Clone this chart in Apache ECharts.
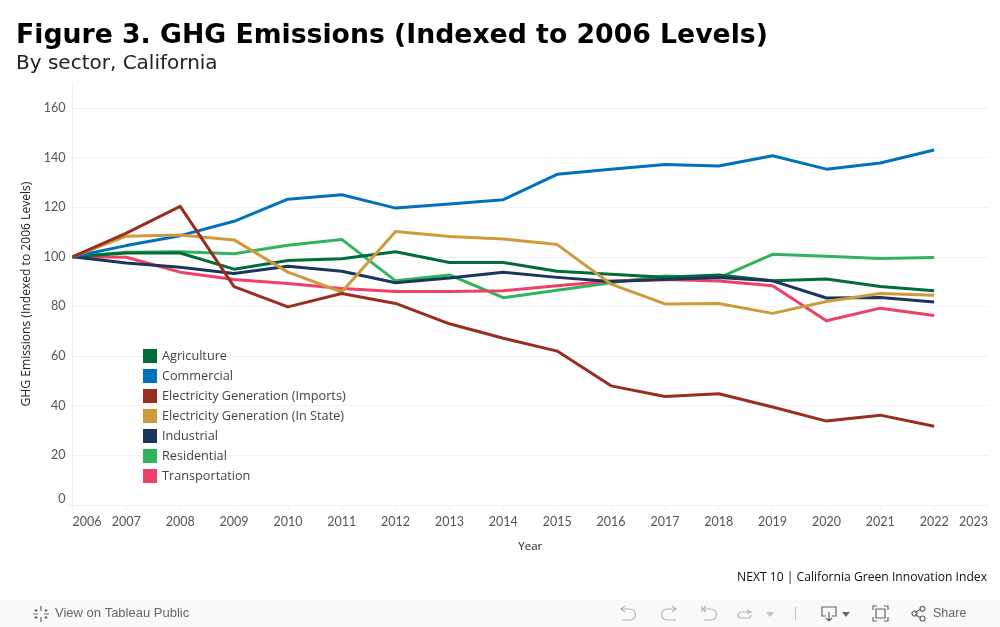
<!DOCTYPE html>
<html><head><meta charset="utf-8">
<style>html,body{margin:0;padding:0;background:#fff}#c{width:1000px;height:627px}</style>
<script src="https://cdn.jsdelivr.net/npm/echarts@6/dist/echarts.min.js"></script>
</head><body><div id="c"></div>
<script>
const years=[2006,2007,2008,2009,2010,2011,2012,2013,2014,2015,2016,2017,2018,2019,2020,2021,2022];
const agriculture=[100,101.5,101.5,95,98.5,99.2,102,97.7,97.7,94.2,93,91.7,92.7,90.3,91,88,86.3];
const commercial=[100,104.5,108.5,114.3,123.2,125,119.6,121.3,123,133.2,135.3,137.2,136.6,140.7,135.3,137.8,143];
const imports=[100,109.5,120.3,88,79.8,85.2,81.2,73,67.2,62,48,43.7,44.8,39.5,33.8,36.2,31.7];
const inState=[100,108.3,108.8,106.8,93.8,85.8,110.2,108.2,107.2,104.9,89,81,81.2,77.2,82,85.2,84.5];
const industrial=[100,97.5,95.8,93.3,96.2,94.2,89.5,91.4,93.8,91.7,90,90.8,91.6,90.3,83.4,83.6,81.8];
const residential=[100,101.8,102,101.2,104.6,107,90.3,92.7,83.5,86.5,89.5,92.3,91.5,101,100.2,99.3,99.7];
const transportation=[100,99.8,93.8,90.8,89.2,87.2,86,86,86.3,88.3,90.2,90.8,90.2,88.3,74.2,79.3,76.3];
const legendOrder=['Agriculture','Commercial','Electricity Generation (Imports)','Electricity Generation (In State)','Industrial','Residential','Transportation'];
const drawOrder=[
 ['Residential',residential,'#2fb35d'],
 ['Transportation',transportation,'#f03f68'],
 ['Agriculture',agriculture,'#006d3b'],
 ['Industrial',industrial,'#1b365d'],
 ['Commercial',commercial,'#0072bc'],
 ['Electricity Generation (In State)',inState,'#cd9a3c'],
 ['Electricity Generation (Imports)',imports,'#982f1e']
];
const font='Lato', textFont='Open Sans';
let icn=0;
const ic=(d,x,y,stroke)=>{const name='tbicon'+(icn++);
 echarts.graphic.registerShape(name,echarts.graphic.extendPath(d,{}));
 return {type:name,x,y,silent:true,style:{fill:'none',stroke:stroke||'#b5b5b5',lineWidth:1.2}};};
const chart=echarts.init(document.getElementById('c'),null,{renderer:'canvas'});
chart.setOption({
 animation:false,backgroundColor:'#fff',
 title:[
  {text:'Figure 3. GHG Emissions (Indexed to 2006 Levels)',left:16,top:23,padding:0,textStyle:{fontFamily:'DejaVu Sans',fontSize:26.7,fontWeight:'bold',color:'#000'}},
  {text:'By sector, California',left:16,top:54,padding:0,textStyle:{fontFamily:'DejaVu Sans',fontSize:20,fontWeight:'normal',color:'#222'}}
 ],
 grid:{left:72.5,right:12,top:83,bottom:122},
 legend:{orient:'vertical',left:143,top:349,padding:0,itemWidth:14,itemHeight:14,itemGap:6,icon:'rect',selectedMode:false,
  data:legendOrder,textStyle:{fontFamily:textFont,fontSize:12.7,color:'#444',padding:[2,0,0,0]}},
 xAxis:{type:'value',min:2006,max:2023,interval:1,splitLine:{show:false},
  name:'Year',nameLocation:'middle',nameGap:36,nameTextStyle:{fontFamily:textFont,fontSize:11.5,color:'#222'},
  axisLine:{show:true,lineStyle:{color:'#f0f0f0'}},axisTick:{show:true,length:4,lineStyle:{color:'#f0f0f0'}},
  axisLabel:{fontFamily:font,fontSize:12.5,color:'#555',margin:10,formatter:v=>String(v),alignMinLabel:'left',alignMaxLabel:'right'}},
 yAxis:{type:'value',min:0,max:170,interval:20,
  name:'GHG Emissions (Indexed to 2006 Levels)',nameLocation:'middle',nameGap:33,nameTextStyle:{fontFamily:textFont,fontSize:12.1,color:'#222'},
  splitLine:{show:true,showMinLine:false,showMaxLine:false,lineStyle:{color:'#f2f2f2'}},
  axisLine:{show:true,lineStyle:{color:'#f0f0f0'}},axisTick:{show:false},
  axisLabel:{fontFamily:font,fontSize:12.5,color:'#555',margin:7,showMaxLabel:false,verticalAlignMinLabel:'bottom'}},
 series:drawOrder.map(([name,vals,color])=>({name,type:'line',symbol:'none',smooth:false,
  data:vals.map((v,i)=>[years[i],v]),lineStyle:{width:3,color,join:'round'},itemStyle:{color},emphasis:{disabled:true}})),
 graphic:[
  {type:'line',shape:{x1:67,y1:505,x2:72.5,y2:505},style:{stroke:'#f0f0f0'}},
  {type:'text',x:737,y:572,style:{text:'NEXT 10 | California Green Innovation Index',fontFamily:textFont,fontSize:12.15,fill:'#111'}},
  {type:'rect',shape:{x:0,y:600,width:1000,height:27},style:{fill:'#f9f9f9'},z:-1},
  {type:'text',x:55,y:607,style:{text:'View on Tableau Public',fontFamily:'Liberation Sans',fontSize:13,fill:'#666'}},
  ic('M8 0V5M8 11V16M0 8H5M11 8H16M3 3V6M1.5 4.5H4.5M13 3V6M11.5 4.5H14.5M3 10V13M1.5 11.5H4.5M13 10V13M11.5 11.5H14.5',33,606,'#666'),
  ic('M5 0L1 3L5 6M1 3H10A5.5 5.5 0 0 1 10 14H2',620,606),
  ic('M11 0L15 3L11 6M15 3H6A5.5 5.5 0 0 0 6 14H15',661,606),
  ic('M1 0V6M5 0L2 3L5 6M2 3H10A5.5 5.5 0 0 1 10 14H3',701,606),
  ic('M11 5L15 7L11 9M15 7H5A3 3 0 0 0 5 13H12A3 3 0 0 0 15 10',736,605),
  {type:'polygon',shape:{points:[[766,612],[774,612],[770,617]]},style:{fill:'#c4c4c4'}},
  {type:'line',shape:{x1:795.5,y1:607,x2:795.5,y2:620},style:{stroke:'#c4c4c4'}},
  ic('M4 10H0V1H14V10H10M7 6V15M4 12L7 15L10 12',822,606,'#666'),
  {type:'polygon',shape:{points:[[842,612],[850,612],[846,617]]},style:{fill:'#666'}},
  ic('M0 4V0H4M11 0H15V4M15 11V15H11M4 15H0V11M3 3H12V12H3Z',873,606,'#666'),
  ic('M4 6.5L10 3M4 8.5L10 12M6 7.5A2.5 2.5 0 1 1 1 7.5A2.5 2.5 0 1 1 6 7.5M14 2.8A2.5 2.5 0 1 1 9 2.8A2.5 2.5 0 1 1 14 2.8M14 12.5A2.5 2.5 0 1 1 9 12.5A2.5 2.5 0 1 1 14 12.5',911,606,'#666'),
  {type:'text',x:933,y:607,style:{text:'Share',fontFamily:'Liberation Sans',fontSize:12.5,fill:'#666'}}
 ]
});
</script></body></html>
